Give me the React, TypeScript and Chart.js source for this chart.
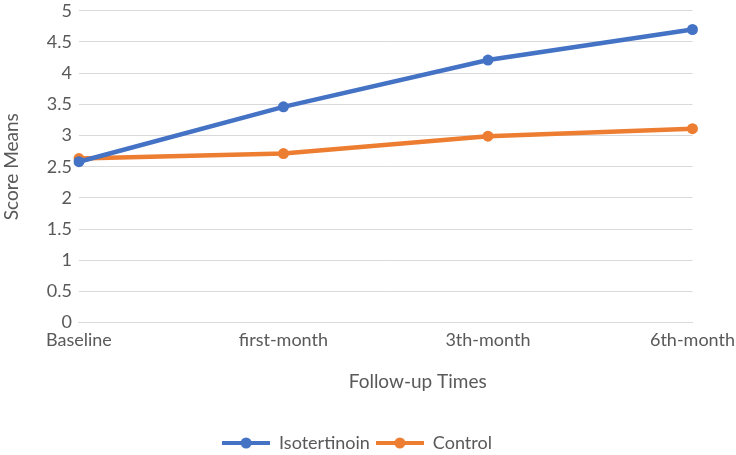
import React, { useEffect, useRef } from "react";
import { Chart, registerables } from "chart.js";

Chart.register(...registerables);

const categories = ["Baseline", "first-month", "3th-month", "6th-month"];
const isotretinoin = [2.58, 3.46, 4.21, 4.7];
const control = [2.63, 2.71, 2.99, 3.11];
const seriesNames = ["Isotertinoin", "Control"];
const colors = ["#4472C4", "#ED7D31"];

const ICON_W = 48;
const X_TITLE_SHIFT = 32;
const LEGEND_SHIFT = -14;

function legendIcon(color: string): HTMLCanvasElement {
  const c = document.createElement("canvas");
  const w = ICON_W, h = 14;
  c.width = w; c.height = h;
  const ctx = c.getContext("2d")!;
  ctx.strokeStyle = color;
  ctx.lineWidth = 4;
  ctx.beginPath();
  ctx.moveTo(0, h / 2);
  ctx.lineTo(w, h / 2);
  ctx.stroke();
  ctx.fillStyle = color;
  ctx.beginPath();
  ctx.arc(w / 2, h / 2, 5.5, 0, Math.PI * 2);
  ctx.fill();
  return c;
}

const shiftPlugin = {
  id: "shiftPlugin",
  afterLayout(chart: any) {
    const sx = chart.scales.x;
    if (sx && !sx.__shifted) {
      sx.__shifted = true;
      const orig = sx.drawTitle.bind(sx);
      sx.drawTitle = () => {
        sx.ctx.save();
        sx.ctx.translate(X_TITLE_SHIFT, 0);
        orig();
        sx.ctx.restore();
      };
    }
    const lg = chart.legend;
    if (lg && !lg.__shifted) {
      lg.__shifted = true;
      const origDraw = lg.draw.bind(lg);
      lg.draw = (...args: any[]) => {
        lg.ctx.save();
        lg.ctx.translate(LEGEND_SHIFT, 0);
        origDraw(...args);
        lg.ctx.restore();
      };
    }
  },
};

const CW = 742;
const CH = 462;

export default function App() {
  const ref = useRef<HTMLCanvasElement>(null);
  useEffect(() => {
    document.body.style.margin = "0";
    const font = "Lato, 'Carlito', sans-serif";
    const chart = new Chart(ref.current!, {
      type: "line",
      data: {
        labels: categories,
        datasets: [isotretinoin, control].map((d, i) => ({
          label: seriesNames[i],
          data: d,
          borderColor: colors[i],
          backgroundColor: colors[i],
          borderWidth: 4.5,
          pointRadius: 5.5,
          pointHoverRadius: 5.5,
          pointBorderWidth: 0,
          tension: 0,
        })),
      },
      plugins: [shiftPlugin],
      options: {
        animation: false,
        responsive: false,
        maintainAspectRatio: false,
        layout: { padding: { left: 0, right: 0, top: 0, bottom: -7 } },
        plugins: {
          tooltip: { enabled: false },
          legend: {
            position: "bottom",
            labels: {
              font: { family: font, size: 18 },
              color: "#595959",
              usePointStyle: true,
              pointStyleWidth: ICON_W,
              boxHeight: 14,
              padding: 6,
              generateLabels: (ch: any) =>
                ch.data.datasets.map((ds: any, i: number) => ({
                  text: ds.label,
                  fillStyle: colors[i],
                  strokeStyle: colors[i],
                  pointStyle: legendIcon(colors[i]),
                  fontColor: "#595959",
                  lineWidth: 0,
                  datasetIndex: i,
                  hidden: false,
                })),
            },
          },
        },
        scales: {
          x: {
            offset: false,
            grid: { display: false, drawTicks: false },
            border: { display: true, color: "#d9d9d9", width: 1 },
            ticks: {
              font: { family: font, size: 18 },
              color: "#595959",
              padding: 7,
              maxRotation: 0,
              autoSkip: false,
            },
            title: {
              display: true,
              text: "Follow-up Times",
              font: { family: font, size: 19 },
              color: "#595959",
              padding: { top: 12, bottom: 35 },
            },
          },
          y: {
            min: 0,
            max: 5,
            ticks: {
              stepSize: 0.5,
              font: { family: font, size: 18 },
              color: "#595959",
              padding: 7,
              callback: (v: any) => String(Math.round(Number(v) * 10) / 10),
            },
            grid: { color: "#d9d9d9", drawTicks: false },
            border: { display: false },
            title: {
              display: true,
              text: "Score Means",
              font: { family: font, size: 19 },
              color: "#595959",
              padding: { top: 0, bottom: 17 },
            },
          },
        },
      },
    });
    return () => chart.destroy();
  }, []);
  return (
    <div style={{ position: "absolute", left: 0, top: 0, width: 736, height: 455, overflow: "hidden" }}>
      <canvas
        ref={ref}
        width={CW}
        height={CH}
        style={{ position: "absolute", left: 0, top: -7, width: CW, height: CH }}
      />
    </div>
  );
}
